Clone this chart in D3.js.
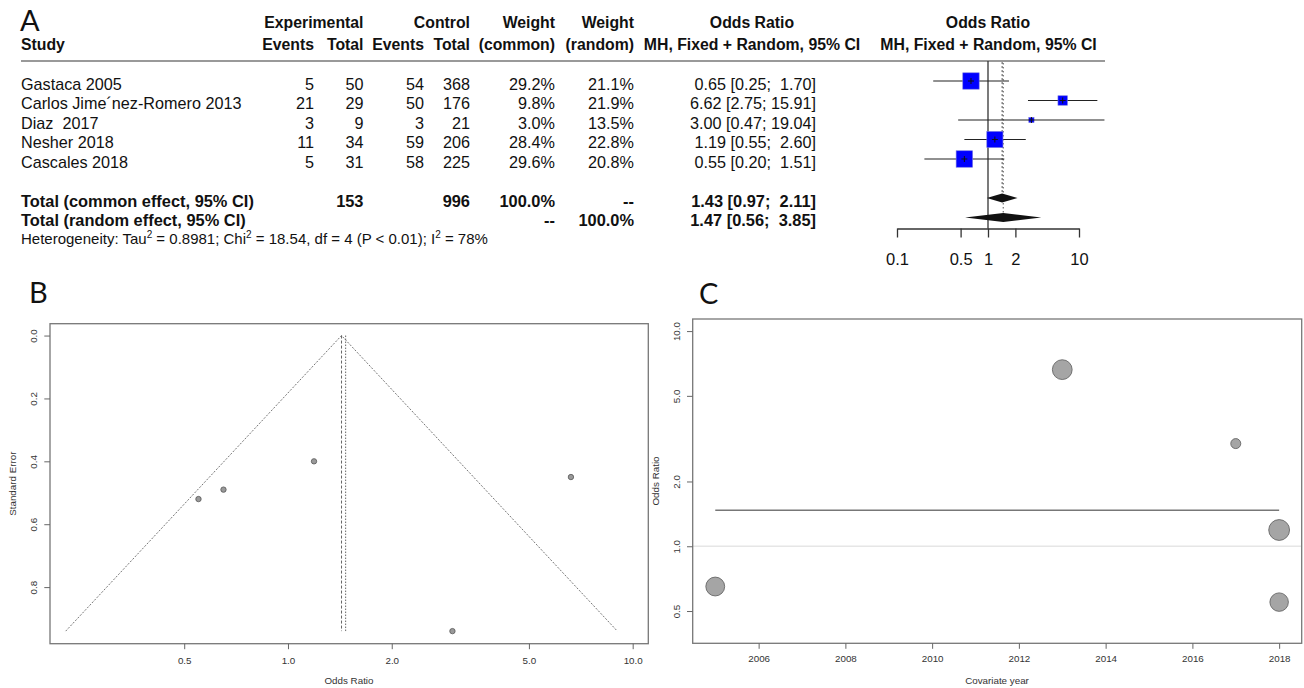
<!DOCTYPE html>
<html>
<head>
<meta charset="utf-8">
<script src="https://cdn.jsdelivr.net/npm/d3@7"></script>
<style>
body { margin: 0; background: #fff; }
svg { font-family: "Liberation Sans", Arial, sans-serif; }
text { white-space: pre; }
</style>
</head>
<body>
<div id="chart"></div>
<script>
// study data
const studies = ["Gastaca 2005", "Carlos Jime\u00B4nez-Romero 2013", "Diaz  2017", "Nesher 2018", "Cascales 2018"];
const years = [2005, 2013, 2017, 2018, 2018];
const expEvents = [5, 21, 3, 11, 5];
const expTotal = [50, 29, 9, 34, 31];
const ctrlEvents = [54, 50, 3, 59, 58];
const ctrlTotal = [368, 176, 21, 206, 225];
const weightCommon = [29.2, 9.8, 3.0, 28.4, 29.6];
const weightRandom = [21.1, 21.9, 13.5, 22.8, 20.8];
const oddsRatio = [0.65, 6.62, 3.00, 1.19, 0.55];
const ciLower = [0.25, 2.75, 0.47, 0.55, 0.20];
const ciUpper = [1.70, 15.91, 19.04, 2.60, 1.51];
const stdErr = [0.49, 0.45, 0.94, 0.40, 0.52];

const commonTotal = {or: 1.43, lo: 0.97, hi: 2.11, exp: 153, ctrl: 996};
const randomTotal = {or: 1.47, lo: 0.56, hi: 3.85};

const forestTicks = [0.1, 0.5, 1, 2, 10];
const funnelXTicks = [0.5, 1.0, 2.0, 5.0, 10.0];
const funnelYTicks = [0.0, 0.2, 0.4, 0.6, 0.8];
const bubbleXTicks = [2006, 2008, 2010, 2012, 2014, 2016, 2018];
const bubbleYTicks = [0.5, 1.0, 2.0, 5.0, 10.0];

const data = studies.map((s, i) => ({
  study: s, year: years[i], ee: expEvents[i], et: expTotal[i], ce: ctrlEvents[i], ct: ctrlTotal[i],
  wc: weightCommon[i], wr: weightRandom[i], or: oddsRatio[i], lo: ciLower[i], hi: ciUpper[i], se: stdErr[i]
}));

const svg = d3.select("#chart").append("svg")
  .attr("width", 1304).attr("height", 688);

const f2 = d3.format(".2f");
const pct = v => d3.format(".1f")(v) + "%";
const ciText = d => `${f2(d.or)} [${f2(d.lo)}; ${f2(d.hi).padStart(5, " ")}]`;

// ---------------- panel A : forest plot ----------------
const A = svg.append("g");
A.append("text").attr("x", 20).attr("y", 31).text("A")
  .style("font-family", "Lato, 'Open Sans', sans-serif").style("font-size", "29px").attr("fill", "#111");

const col = {study: 21, ee: 314, et: 363.5, ce: 424, ct: 470, wc: 555, wr: 634, ci: 816};
const row = d3.scaleLinear().domain([0, 1]).range([81, 100.5]);
const fs = "16.2px", hs = "15.8px";

function txt(g, x, y, s, anchor, bold, size) {
  return g.append("text").attr("x", x).attr("y", y).text(s)
    .attr("text-anchor", anchor || "start")
    .style("font-size", size || fs)
    .style("font-weight", bold ? "bold" : "normal")
    .attr("fill", "#111");
}

// headers
txt(A, col.et, 28, "Experimental", "end", true, hs);
txt(A, col.ct, 28, "Control", "end", true, hs);
txt(A, col.wc, 28, "Weight", "end", true, hs);
txt(A, col.wr, 28, "Weight", "end", true, hs);
txt(A, 752, 28, "Odds Ratio", "middle", true, hs);
txt(A, 988, 28, "Odds Ratio", "middle", true, hs);
txt(A, col.study, 49.5, "Study", "start", true, hs);
txt(A, col.ee, 49.5, "Events", "end", true, hs);
txt(A, col.et, 49.5, "Total", "end", true, hs);
txt(A, col.ce, 49.5, "Events", "end", true, hs);
txt(A, col.ct, 49.5, "Total", "end", true, hs);
txt(A, col.wc, 49.5, "(common)", "end", true, hs);
txt(A, col.wr, 49.5, "(random)", "end", true, hs);
txt(A, 752, 49.5, "MH, Fixed + Random, 95% CI", "middle", true, hs);
txt(A, 988.5, 49.5, "MH, Fixed + Random, 95% CI", "middle", true, hs);

A.append("line").attr("x1", 21).attr("x2", 1105).attr("y1", 61).attr("y2", 61)
  .attr("stroke", "#777").attr("stroke-width", 1.6);

// study rows
data.forEach((d, i) => {
  const y = row(i) + 8.7;
  txt(A, col.study, y, d.study);
  txt(A, col.ee, y, d.ee, "end");
  txt(A, col.et, y, d.et, "end");
  txt(A, col.ce, y, d.ce, "end");
  txt(A, col.ct, y, d.ct, "end");
  txt(A, col.wc, y, pct(d.wc), "end");
  txt(A, col.wr, y, pct(d.wr), "end");
  txt(A, col.ci, y, ciText(d), "end");
});

// totals
const yC = row(6) + 8.7, yR = row(7) + 8.7, ts = "16.4px";
txt(A, col.study, yC, "Total (common effect, 95% CI)", "start", true, ts);
txt(A, col.et, yC, commonTotal.exp, "end", true, ts);
txt(A, col.ct, yC, commonTotal.ctrl, "end", true, ts);
txt(A, col.wc, yC, "100.0%", "end", true, ts);
txt(A, col.wr, yC, "--", "end", true, ts);
txt(A, col.ci, yC, ciText(commonTotal), "end", true, ts);
txt(A, col.study, yR, "Total (random effect, 95% CI)", "start", true, ts);
txt(A, col.wc, yR, "--", "end", true, ts);
txt(A, col.wr, yR, "100.0%", "end", true, ts);
txt(A, col.ci, yR, ciText(randomTotal), "end", true, ts);

const het = txt(A, col.study, 244, "Heterogeneity: Tau", "start", false, "15px");
[["2", true], [" = 0.8981; Chi", false], ["2", true], [" = 18.54, df = 4 (P < 0.01); I", false], ["2", true], [" = 78%", false]]
  .forEach(([s, sup], k, arr) => {
    het.append("tspan").text(s)
      .attr("dy", sup ? -6 : (k > 0 && arr[k - 1][1] ? 6 : 0))
      .style("font-size", sup ? "10px" : null);
  });

// forest graphic
const fx = d3.scaleLog().domain([0.1, 10]).range([897, 1079]);
const sq = d3.scaleSqrt().domain([0, 30]).range([0, 16.6]);

A.append("line").attr("x1", fx(1)).attr("x2", fx(1)).attr("y1", 61).attr("y2", 228.5)
  .attr("stroke", "#333").attr("stroke-width", 1.3);
A.append("line").attr("x1", fx(commonTotal.or)).attr("x2", fx(commonTotal.or))
  .attr("y1", 62).attr("y2", row(6) - 4.6)
  .attr("stroke", "#555").attr("stroke-width", 1).attr("stroke-dasharray", "2,2");
A.append("line").attr("x1", fx(randomTotal.or)).attr("x2", fx(randomTotal.or))
  .attr("y1", 63).attr("y2", row(7) - 4.6)
  .attr("stroke", "#555").attr("stroke-width", 1).attr("stroke-dasharray", "1.5,2.5");

const rowsG = A.append("g").selectAll("g").data(data).join("g")
  .attr("transform", (d, i) => `translate(0,${row(i)})`);
rowsG.append("line").attr("x1", d => fx(d.lo)).attr("x2", d => fx(d.hi))
  .attr("stroke", "#222").attr("stroke-width", 1.1);
rowsG.append("rect")
  .attr("x", d => fx(d.or) - sq(d.wc) / 2).attr("y", d => -sq(d.wc) / 2)
  .attr("width", d => sq(d.wc)).attr("height", d => sq(d.wc))
  .attr("fill", "#0000ff").attr("stroke", "#7a7ae0").attr("stroke-width", 0.6);
rowsG.append("line").attr("x1", d => fx(d.or) - 3).attr("x2", d => fx(d.or) + 3)
  .attr("stroke", "#111").attr("stroke-width", 1);
rowsG.append("line").attr("x1", d => fx(d.or)).attr("x2", d => fx(d.or)).attr("y1", -3).attr("y2", 3)
  .attr("stroke", "#111").attr("stroke-width", 1);

const diamond = (t, cy) => [[fx(t.lo), cy], [fx(t.or), cy - 4.6], [fx(t.hi), cy], [fx(t.or), cy + 4.6]].join(" ");
A.append("polygon").attr("points", diamond(commonTotal, row(6))).attr("fill", "#111");
A.append("polygon").attr("points", diamond(randomTotal, row(7))).attr("fill", "#111");

const fAxis = A.append("g").attr("transform", "translate(0,228.5)")
  .call(d3.axisBottom(fx).tickValues(forestTicks).tickFormat(d3.format("")).tickSize(9).tickSizeOuter(0).tickPadding(16));
fAxis.select(".domain").attr("stroke", "#333").attr("stroke-width", 1.3);
fAxis.selectAll(".tick line").attr("stroke", "#333").attr("stroke-width", 1.3);
fAxis.selectAll("text").style("font-size", "16.5px").attr("fill", "#111")
  .style("font-family", "'Liberation Sans', Arial, sans-serif");

// helpers for base-R style panels
function styleAxis(g, size) {
  g.select(".domain").remove();
  g.selectAll(".tick line").attr("stroke", "#666");
  g.selectAll("text").style("font-size", size).attr("fill", "#333")
    .style("font-family", "'Liberation Sans', Arial, sans-serif");
}
function rotateY(g, off) {
  g.selectAll("text").attr("transform", "rotate(-90)").attr("x", 0).attr("y", -off)
    .attr("dy", 0).attr("text-anchor", "middle");
}

// ---------------- panel B : funnel plot ----------------
const B = svg.append("g");
B.append("text").attr("x", 29).attr("y", 303).text("B")
  .style("font-family", "Lato, 'Open Sans', sans-serif").style("font-size", "29px").attr("fill", "#111");

const bx = d3.scaleLog().domain([0.204, 11.1]).range([50, 648.3]);
const by = d3.scaleLinear().domain([-0.0377, 0.98]).range([323.7, 643.7]);

B.append("rect").attr("x", 50).attr("y", 323.7).attr("width", 598.3).attr("height", 320)
  .attr("fill", "none").attr("stroke", "#777").attr("stroke-width", 1.3);

const seMax = d3.max(stdErr);
const funnel = [
  [commonTotal.or * Math.exp(-1.96 * seMax), seMax],
  [commonTotal.or, 0],
  [commonTotal.or * Math.exp(1.96 * seMax), seMax]
];
B.append("path").attr("d", d3.line().x(d => bx(d[0])).y(d => by(d[1]))(funnel))
  .attr("fill", "none").attr("stroke", "#666").attr("stroke-width", 0.9).attr("stroke-dasharray", "2,1.5");
[[commonTotal.or, "3,2"], [randomTotal.or, "1.5,1.5"]].forEach(([v, dash]) => {
  B.append("line").attr("x1", bx(v)).attr("x2", bx(v)).attr("y1", by(0)).attr("y2", by(seMax))
    .attr("stroke", "#555").attr("stroke-width", 0.9).attr("stroke-dasharray", dash);
});
B.append("g").selectAll("circle").data(data).join("circle")
  .attr("cx", d => bx(d.or)).attr("cy", d => by(d.se)).attr("r", 2.7)
  .attr("fill", "#999").attr("stroke", "#555").attr("stroke-width", 0.8);

const bxAxis = B.append("g").attr("transform", "translate(0,643.7)")
  .call(d3.axisBottom(bx).tickValues(funnelXTicks).tickFormat(d3.format(".1f")).tickSize(5.5).tickPadding(7.5));
styleAxis(bxAxis, "9.8px");
const byAxis = B.append("g").attr("transform", "translate(50,0)")
  .call(d3.axisLeft(by).tickValues(funnelYTicks).tickFormat(d3.format(".1f")).tickSize(5.7));
styleAxis(byAxis, "9.8px");
rotateY(byAxis, 13.5);

B.append("text").attr("x", 349).attr("y", 684).attr("text-anchor", "middle").text("Odds Ratio")
  .style("font-size", "9.8px").attr("fill", "#333");
B.append("text").attr("transform", "translate(15.5,483.7) rotate(-90)").attr("text-anchor", "middle")
  .text("Standard Error").style("font-size", "9.8px").attr("fill", "#333");

// ---------------- panel C : bubble plot ----------------
const C = svg.append("g");
C.append("text").attr("x", 699).attr("y", 304).text("C")
  .style("font-family", "Lato, 'Open Sans', sans-serif").style("font-size", "29px").attr("fill", "#111");

const cx = d3.scaleLinear().domain([2004.48, 2018.52]).range([692.7, 1301.7]);
const cy = d3.scaleLog().domain([0.354, 11.38]).range([643.3, 319]);
const rr = d3.scaleLinear().domain([13.5, 22.8]).range([5, 10.4]);

C.append("line").attr("x1", 692.7).attr("x2", 1301.7).attr("y1", cy(1)).attr("y2", cy(1))
  .attr("stroke", "#e6e6e6").attr("stroke-width", 1.6);
C.append("line").attr("x1", cx(d3.min(years))).attr("x2", cx(d3.max(years)))
  .attr("y1", cy(randomTotal.or)).attr("y2", cy(randomTotal.or))
  .attr("stroke", "#777").attr("stroke-width", 1.3);
C.append("g").selectAll("circle").data(data).join("circle")
  .attr("cx", d => cx(d.year)).attr("cy", d => cy(d.or)).attr("r", d => rr(d.wr))
  .attr("fill", "#a5a5a5").attr("stroke", "#666").attr("stroke-width", 0.9);

C.append("rect").attr("x", 692.7).attr("y", 319).attr("width", 609).attr("height", 324.3)
  .attr("fill", "none").attr("stroke", "#777").attr("stroke-width", 1.3);

const cxAxis = C.append("g").attr("transform", "translate(0,643.3)")
  .call(d3.axisBottom(cx).tickValues(bubbleXTicks).tickFormat(d3.format("d")).tickSize(5.5).tickPadding(6.5));
styleAxis(cxAxis, "9.8px");
const cyAxis = C.append("g").attr("transform", "translate(692.7,0)")
  .call(d3.axisLeft(cy).tickValues(bubbleYTicks).tickFormat(d3.format(".1f")).tickSize(5.7));
styleAxis(cyAxis, "9.8px");
rotateY(cyAxis, 12.5);

C.append("text").attr("x", 997).attr("y", 684).attr("text-anchor", "middle").text("Covariate year")
  .style("font-size", "9.8px").attr("fill", "#333");
C.append("text").attr("transform", "translate(659,481) rotate(-90)").attr("text-anchor", "middle")
  .text("Odds Ratio").style("font-size", "9.8px").attr("fill", "#333");
</script>
</body>
</html>
